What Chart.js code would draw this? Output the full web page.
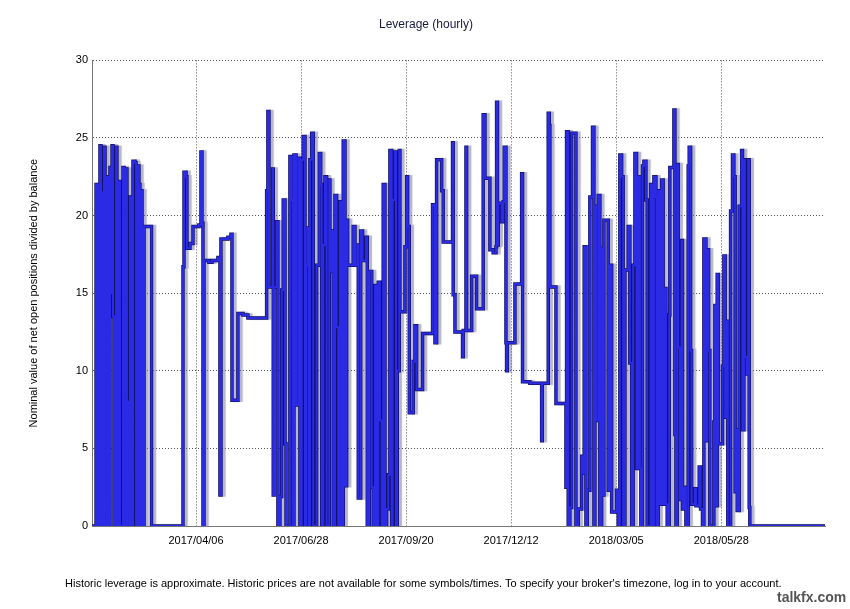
<!DOCTYPE html>
<html>
<head>
<title>Leverage (hourly)</title>
<script src="https://cdn.jsdelivr.net/npm/chart.js@4.4.1/dist/chart.umd.min.js"></script>
<style>
body {
	margin: 0;
	background: #fff;
	font-family: "Liberation Sans", Arial, sans-serif;
}

.wrap {
	position: relative;
	width: 850px;
	height: 609px;
}

.note {
	position: absolute;
	left: 65px;
	top: 577px;
	font-size: 11px;
	color: #000;
	white-space: nowrap;
}

.mark {
	position: absolute;
	left: 777px;
	top: 589px;
	font: bold 14px "Liberation Sans", Arial, sans-serif;
	color: #555;
}
</style>
</head>
<body>
	<div class="wrap">
		<canvas id="chart" width="850" height="609"></canvas>
		<div class="note">Historic leverage is approximate. Historic prices are not available for some symbols/times. To specify your broker's timezone, log in to your account.</div>
		<div class="mark">talkfx.com</div>
	</div>
	<script>
		// days counted from 2017-01-13, value = leverage (hold until next point)
		const days = [
			0.8, 4.0, 5.5, 7.1, 7.9, 8.7, 10.3, 11.1, 11.9, 12.6, 13.4, 14.2, 15.0, 15.8, 16.6, 17.4, 18.2,
			19.8, 20.5, 21.3, 22.9, 25.3, 26.1, 27.7, 28.4, 29.2, 30.8, 31.6, 33.2, 34.8, 35.6, 37.1, 37.9,
			38.7, 39.5, 40.3, 41.1, 41.9, 47.8, 72.7, 73.5, 75.1, 75.8, 78.2, 80.6, 85.3, 86.9, 87.7, 88.5,
			89.3, 93.2, 95.6, 100.3, 101.9, 102.7, 108.2, 110.6, 111.4, 116.1, 120.1, 124.0, 138.8, 139.8,
			140.6, 143.5, 144.0, 144.6, 146.7, 147.7, 149.3, 150.7, 151.9, 153.3, 154.1, 157.2, 158.6, 159.3,
			160.4, 162.0, 163.8, 165.1, 166.5, 167.7, 169.1, 169.9, 170.9, 172.0, 173.0, 174.4, 175.6, 178.3,
			180.4, 181.5, 182.3, 183.5, 184.9, 186.2, 188.3, 188.8, 190.2, 191.4, 192.8, 194.1, 195.4, 196.7,
			198.1, 199.3, 200.7, 202.0, 202.8, 207.2, 208.6, 210.4, 211.2, 213.1, 214.6, 217.3, 218.3, 219.9,
			221.8, 223.0, 224.4, 225.7, 227.0, 228.3, 229.7, 230.9, 232.3, 233.6, 234.9, 236.2, 237.6, 238.3,
			240.2, 241.0, 242.0, 243.6, 244.1, 248.1, 249.4, 250.2, 251.5, 254.6, 256.0, 257.3, 262.0, 269.9,
			271.8, 273.1, 277.1, 278.3, 285.7, 286.2, 287.6, 293.6, 294.1, 296.3, 296.8, 300.8, 304.7, 309.9,
			311.3, 315.2, 317.8, 320.0, 320.5, 321.2, 321.8, 324.5, 325.7, 326.5, 327.9, 328.4, 328.9, 335.0,
			340.3, 341.0, 346.8, 356.1, 356.6, 361.3, 362.1, 362.6, 367.4, 375.3, 375.8, 377.1, 378.4, 379.8,
			383.2, 385.0, 387.7, 388.9, 389.7, 391.1, 392.1, 394.2, 396.3, 397.4, 398.2, 399.0, 400.8, 402.1,
			403.5, 404.2, 405.3, 408.7, 410.0, 411.4, 415.3, 416.6, 417.9, 419.3, 420.5, 421.9, 424.5, 425.8,
			427.2, 428.4, 429.8, 431.1, 432.4, 433.7, 434.5, 435.8, 436.9, 438.5, 439.5, 442.2, 443.7, 444.8,
			446.4, 446.9, 448.2, 449.5, 450.9, 452.1, 453.5, 454.3, 455.3, 456.9, 457.4, 460.6, 461.4, 462.2,
			463.2, 464.0, 465.3, 466.7, 467.4, 468.5, 470.1, 471.9, 472.7, 473.8, 474.6, 477.2, 478.0, 480.6,
			481.7, 483.2, 484.3, 485.9, 486.9, 488.0, 489.0, 492.2, 493.0, 493.8, 494.8, 495.6, 499.0, 500.1,
			501.1, 502.2, 503.2, 505.4, 506.9, 508.0, 509.0, 509.6, 510.6, 512.2, 514.1, 514.8, 515.9, 516.7,
			518.0, 519.3, 520.1, 520.6, 580
		];
		const leverage = [
			0, 22.0, 0, 24.5, 21.5, 0, 24.4, 18.0, 0, 22.5, 14.0, 0, 23.1, 15.0, 24.5, 13.5, 0,
			24.4, 0, 22.2, 0, 23.1, 0, 23.0, 8.0, 0, 21.2, 0, 23.5, 23.4, 0, 23.2, 22.0,
			0, 21.6, 10.0, 0, 19.3, 0, 16.7, 22.8, 22.5, 17.9, 18.2, 19.3, 19.4, 24.1, 19.5, 0,
			17.1, 17.0, 17.1, 17.3, 2.0, 18.5, 18.6, 18.8, 8.1, 13.7, 13.6, 13.4, 21.6, 26.7,
			15.4, 23.0, 2.0, 15.4, 19.6, 0, 1.9, 15.2, 21.0, 5.3, 0, 23.8, 21.0, 0,
			23.9, 7.8, 23.7, 0, 23.6, 25.1, 0, 16.8, 19.2, 0, 23.6, 25.3, 0, 16.8,
			24.0, 22.0, 0, 18.1, 22.5, 0, 22.3, 16.4, 19.0, 0, 21.3, 12.8, 0, 20.9,
			0, 24.8, 2.6, 19.7, 16.8, 19.3, 16.8, 18.1, 1.8, 19.0, 17.1, 18.6, 0, 16.4,
			2.5, 0, 15.5, 0, 15.7, 6.8, 0, 22.0, 0, 1.1, 3.3, 24.2, 0, 21.0,
			24.1, 0, 10.0, 24.2, 13.8, 18.0, 22.5, 19.3, 7.3, 10.6, 12.9, 8.8, 12.4, 20.7,
			11.8, 23.6, 21.6, 18.3, 24.7, 14.9, 12.5, 10.9, 12.6, 24.4, 12.6, 16.1, 14.0, 26.5,
			22.4, 17.8, 17.6, 18.0, 27.3, 18.1, 20.8, 19.6, 20.9, 24.4, 11.8, 10.0, 11.8, 15.6,
			22.7, 9.3, 9.2, 5.5, 9.2, 26.6, 25.8, 15.4, 7.9, 2.5, 25.4, 0, 1.2, 25.3,
			0, 1.1, 4.5, 3.4, 18.0, 0, 2.3, 21.2, 25.7, 0, 20.6, 6.8, 21.3, 0,
			17.9, 2.0, 19.7, 2.3, 16.8, 0.9, 2.3, 0, 23.9, 22.5, 0, 16.5, 19.3, 10.5,
			0, 16.8, 24.0, 3.7, 22.5, 3.7, 0, 23.2, 23.5, 21.0, 0, 22.0, 0, 22.5,
			21.2, 0, 21.6, 1.4, 22.3, 1.4, 15.3, 1.4, 0, 13.6, 23.1, 26.8, 5.9, 0,
			23.3, 11.5, 1.7, 18.4, 1.1, 2.5, 0, 23.2, 24.4, 11.3, 1.4, 2.4, 1.3, 3.8,
			1.1, 0, 18.5, 5.5, 17.8, 11.3, 0, 6.7, 14.2, 1.3, 16.2, 5.3, 10.3, 17.4,
			7.0, 13.2, 0, 20.3, 23.9, 22.5, 2.2, 6.2, 1.0, 20.6, 24.2, 6.2, 23.6, 10.9,
			9.8, 23.6, 1.2, 0, 0
		];
		const tickDays = [83, 166, 249, 332, 415, 498];
		const tickLabels = ['2017/04/06', '2017/06/28', '2017/09/20', '2017/12/12', '2018/03/05', '2018/05/28'];

		const points = days.map((d, i) => ({ x: d, y: leverage[i] }));

		// grey drop shadow under the dark outline dataset
		const shadowPlugin = {
			id: 'shadow',
			beforeDatasetDraw(chart, args) {
				const ctx = chart.ctx;
				ctx.save();
				if (args.index === 1) {
					ctx.shadowColor = 'rgba(110, 110, 150, 0.5)';
					ctx.shadowOffsetX = 3;
					ctx.shadowOffsetY = 0;
					ctx.shadowBlur = 1;
				}
			},
			afterDatasetDraw(chart) {
				chart.ctx.restore();
			}
		};

		const font = { family: '"Liberation Sans", Arial, sans-serif', size: 11 };

		new Chart(document.getElementById('chart'), {
			type: 'line',
			data: {
				datasets: [
					{
						data: points,
						borderColor: '#2b2be6',
						borderWidth: 2,
						stepped: true,
						pointRadius: 0,
						fill: false
					},
					{
						data: points,
						borderColor: '#12126a',
						borderWidth: 3.5,
						stepped: true,
						pointRadius: 0,
						fill: false
					}
				]
			},
			plugins: [shadowPlugin],
			options: {
				responsive: false,
				animation: false,
				layout: { padding: { left: 27, right: 25, top: 0, bottom: 0 } },
				plugins: {
					legend: { display: false },
					tooltip: { enabled: false },
					title: {
						display: true,
						text: 'Leverage (hourly)',
						color: '#1a1a40',
						font: { family: font.family, size: 12, weight: 'normal' },
						padding: { top: 17, bottom: 29 }
					}
				},
				scales: {
					x: {
						type: 'linear',
						min: 0.8,
						max: 580,
						afterBuildTicks: (scale) => {
							scale.ticks = tickDays.map(v => ({ value: v }));
						},
						afterFit: (scale) => { scale.height = 83; },
						ticks: {
							autoSkip: false,
							maxRotation: 0,
							color: '#000',
							font: font,
							padding: 8,
							callback: (v) => tickLabels[tickDays.indexOf(v)]
						},
						grid: {
							color: '#555',
							drawTicks: false,
							tickLength: 0
						},
						border: { display: true, color: '#777', width: 1, dash: [1, 2] }
					},
					y: {
						min: 0,
						max: 30,
						afterFit: (scale) => { scale.width = 65; },
						ticks: {
							stepSize: 5,
							color: '#000',
							font: font,
							padding: 4
						},
						grid: {
							color: '#555',
							drawTicks: false,
							tickLength: 0
						},
						border: { display: true, color: '#777', width: 1, dash: [1, 2] },
						title: {
							display: true,
							text: 'Nominal value of net open positions divided by balance',
							color: '#000',
							font: { family: font.family, size: 11 },
							padding: { top: 0, bottom: 0 }
						}
					}
				}
			}
		});
	</script>
</body>
</html>
